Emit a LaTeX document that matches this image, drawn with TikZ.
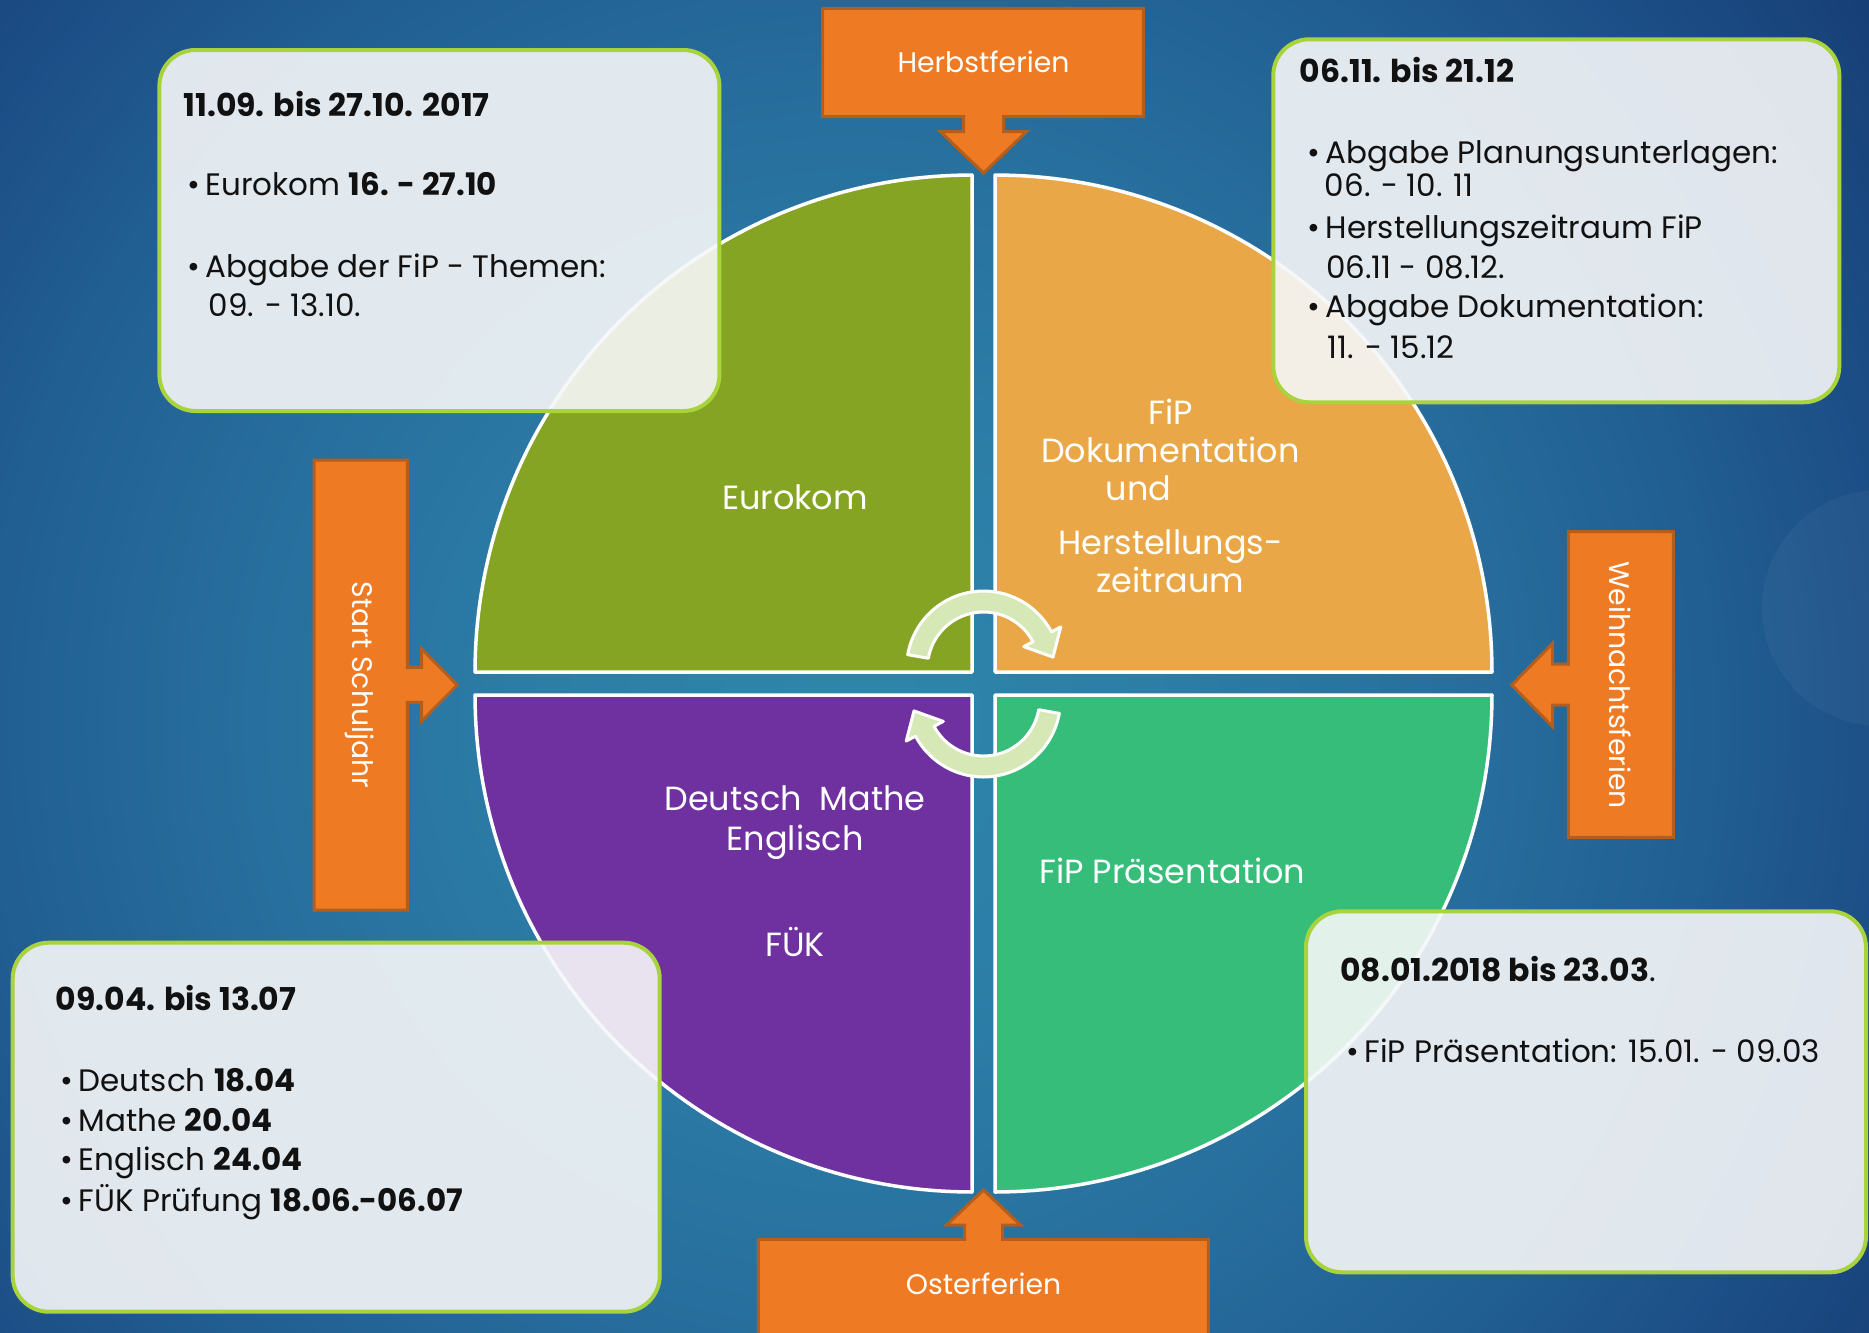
\documentclass[tikz,border=0pt]{standalone}
\usepackage{fontspec}
\setmainfont{Poppins}[Numbers=Monospaced]
\usetikzlibrary{calc}
\definecolor{bg0}{HTML}{2E86AB}
\definecolor{bg1}{HTML}{2C7EA7}
\definecolor{bg2}{HTML}{276F9E}
\definecolor{bg3}{HTML}{215F92}
\definecolor{bg4}{HTML}{1C4E86}
\definecolor{bg5}{HTML}{173E76}
\definecolor{qgreen}{HTML}{86A424}
\definecolor{qorange}{HTML}{E9A747}
\definecolor{qpurple}{HTML}{7031A0}
\definecolor{qteal}{HTML}{36BD7A}
\definecolor{orangeF}{HTML}{EE7B24}
\definecolor{orangeD}{HTML}{B55D1D}
\definecolor{boxfill}{HTML}{F6F7F8}
\definecolor{boxline}{HTML}{A8D33C}
\definecolor{cycfill}{HTML}{D6E8B6}
\definecolor{txt}{HTML}{111111}
\pgfdeclareradialshading{bgshade}{\pgfpoint{0bp}{0bp}}{color(0bp)=(bg0); color(6bp)=(bg1); color(12bp)=(bg2); color(17bp)=(bg3); color(21bp)=(bg4); color(25bp)=(bg5); color(50bp)=(bg5)}
\tikzset{
  quad/.style={draw=white, line width=3.5pt, line join=round},
  callout/.style={fill=orangeF, draw=orangeD, line width=3pt, line join=miter},
  infobox/.style={draw=boxline, line width=4pt, fill=boxfill, fill opacity=0.9, rounded corners=36pt, inner sep=0pt, anchor=north west},
  cyc/.style={fill=cycfill, draw=white, line width=3pt, line join=round},
  qlabel/.style={text=white, font=\fontsize{33.5}{38}\selectfont, anchor=base, inner sep=0pt},
  clabel/.style={text=white, font=\fontsize{28.3}{33}\selectfont, inner sep=0pt},
  btitle/.style={anchor=base west, inner sep=0pt, text=txt, font=\fontsize{31.5}{36}\selectfont\bfseries},
  btext/.style={anchor=base west, inner sep=0pt, text=txt, font=\fontsize{31}{37}\selectfont},
}
\newcommand{\bul}{\makebox[18.5pt][l]{•}}
\begin{document}
\begin{tikzpicture}[x=1pt,y=-1pt]
\useasboundingbox (0,0) rectangle (1869,1333);
\clip (0,0) rectangle (1869,1333);
% background
\fill[bg5] (0,0) rectangle (1869,1333);
\shade[shading=bgshade] (850,720) circle[radius=1250];
\fill[white, opacity=0.04] (1880,608) circle[radius=118];

% quadrants
\draw[quad, fill=qgreen] (972,672) -- plot[domain=180:90,samples=80] ({972+497*cos(\x)},{672-497*sin(\x)}) -- cycle;
\draw[quad, fill=qorange] (995,672) -- plot[domain=90:0,samples=80] ({995+497*cos(\x)},{672-497*sin(\x)}) -- cycle;
\draw[quad, fill=qpurple] (972,695) -- plot[domain=180:270,samples=80] ({972+497*cos(\x)},{695-497*sin(\x)}) -- cycle;
\draw[quad, fill=qteal] (995,695) -- plot[domain=270:360,samples=80] ({995+497*cos(\x)},{695-497*sin(\x)}) -- cycle;

% quadrant labels
\node[qlabel] (lEuro) at (795,509) {Eurokom};
\node[qlabel] (lFiP) at (1170.5,424.4) {FiP};
\node[qlabel] (lDok) at (1170.5,462.5) {Dokumentation};
\node[qlabel] (lUnd) at (1138.4,500.6) {und};
\node[qlabel] (lHer) at (1170.5,554.3) {Herstellungs-};
\node[qlabel] (lZeit) at (1170.5,592.4) {zeitraum};
\node[qlabel] (lDM) at (795,810.6) {Deutsch\ \ Mathe};
\node[qlabel] (lEng) at (795,850) {Englisch};
\node[qlabel] (lFUK) at (795,956) {FÜK};
\node[qlabel] (lPraes) at (1172.4,883.3) {FiP Präsentation};

% cycle arrows
\draw[cyc] plot[domain=170:28,samples=40] ({983.5+77*cos(\x)},{668-77*sin(\x)}) -- (1060.8,626.9) -- (1053,657.1) -- (1023.7,646.6) -- plot[domain=28:170,samples=40] ({983.5+56*cos(\x)},{668-56*sin(\x)}) -- cycle;
\begin{scope}[rotate around={180:(983.5,684)}]
\draw[cyc] plot[domain=170:28,samples=40] ({983.5+77*cos(\x)},{668-77*sin(\x)}) -- (1060.8,626.9) -- (1053,657.1) -- (1023.7,646.6) -- plot[domain=28:170,samples=40] ({983.5+56*cos(\x)},{668-56*sin(\x)}) -- cycle;
\end{scope}

% callouts
\draw[callout] (822.7,8.3) -- (1143.3,8.3) -- (1143.3,116.7) -- (1003.5,116.7) -- (1003.5,131.7) -- (1026.5,131.7) -- (983.5,173) -- (940.5,131.7) -- (963.5,131.7) -- (963.5,116.7) -- (822.7,116.7) -- cycle;
\node[clabel] (cHerbst) at (983.5,62) {Herbstferien};

\draw[callout] (758.3,1345) -- (758.3,1239.3) -- (964.5,1239.3) -- (964.5,1225) -- (946.5,1225) -- (983.5,1190) -- (1020.5,1225) -- (1002.5,1225) -- (1002.5,1239.3) -- (1208.3,1239.3) -- (1208.3,1345) -- cycle;
\node[clabel] (cOster) at (983.5,1284) {Osterferien};

\draw[callout] (314,460) -- (407.3,460) -- (407.3,667.3) -- (421.7,667.3) -- (421.7,649) -- (457.3,685) -- (421.7,721) -- (421.7,702.3) -- (407.3,702.3) -- (407.3,910) -- (314,910) -- cycle;
\node[clabel, rotate=-90] (cStart) at (359.3,685) {Start Schuljahr};

\draw[callout] (1673.3,531.7) -- (1568.3,531.7) -- (1568.3,664) -- (1552.7,664) -- (1552.7,643.3) -- (1511.7,685) -- (1552.7,726.7) -- (1552.7,705) -- (1568.3,705) -- (1568.3,837.3) -- (1673.3,837.3) -- cycle;
\node[clabel, rotate=-90] (cWeih) at (1620,685) {Weihnachtsferien};

% info boxes
\node[infobox, minimum width=560pt, minimum height=361pt] (boxTL) at (157.4,48) {};
\node[infobox, minimum width=566pt, minimum height=363pt] (boxTR) at (1271.3,37.3) {};
\node[infobox, minimum width=647pt, minimum height=369pt] (boxBL) at (10.7,940.7) {};
\node[infobox, minimum width=560pt, minimum height=361pt] (boxBR) at (1304,909.3) {};

% texts top-left
\node[btitle] (tlT) at (183.3,116) {11.09. bis 27.10. 2017};
\node[btext] (tl1) at (187,195) {\bul Eurokom \textbf{16. - 27.10}};
\node[btext] (tl2) at (187,277.3) {\bul Abgabe der FiP - Themen:};
\node[btext] (tl3) at (208.5,316.7) {09. - 13.10.};

% texts top-right
\node[btitle] (trT) at (1299.5,82.7) {06.11. bis 21.12};
\node[btext] (tr1) at (1307,163.3) {\bul Abgabe Planungsunterlagen:};
\node[btext] (tr2) at (1324.7,196.7) {06. - 10. 11};
\node[btext] (tr3) at (1307,238.3) {\bul Herstellungszeitraum FiP};
\node[btext] (tr4) at (1325.8,278.3) {06.11 - 08.12.};
\node[btext] (tr5) at (1307,317.3) {\bul Abgabe Dokumentation:};
\node[btext] (tr6) at (1327.7,358.3) {11. - 15.12};

% texts bottom-left
\node[btitle] (blT) at (55.6,1010) {09.04. bis 13.07};
\node[btext] (bl1) at (60,1091) {\bul Deutsch \textbf{18.04}};
\node[btext] (bl2) at (60,1131) {\bul Mathe \textbf{20.04}};
\node[btext] (bl3) at (60,1170.7) {\bul Englisch \textbf{24.04}};
\node[btext] (bl4) at (60,1211.7) {\bul FÜK Prüfung \textbf{18.06.-06.07}};

% texts bottom-right
\node[btitle] (brT) at (1340,981.7) {08.01.2018 bis 23.03\mdseries.};
\node[btext] (br1) at (1346,1062.7) {\bul FiP Präsentation: 15.01. - 09.03};
\end{tikzpicture}
\end{document}
